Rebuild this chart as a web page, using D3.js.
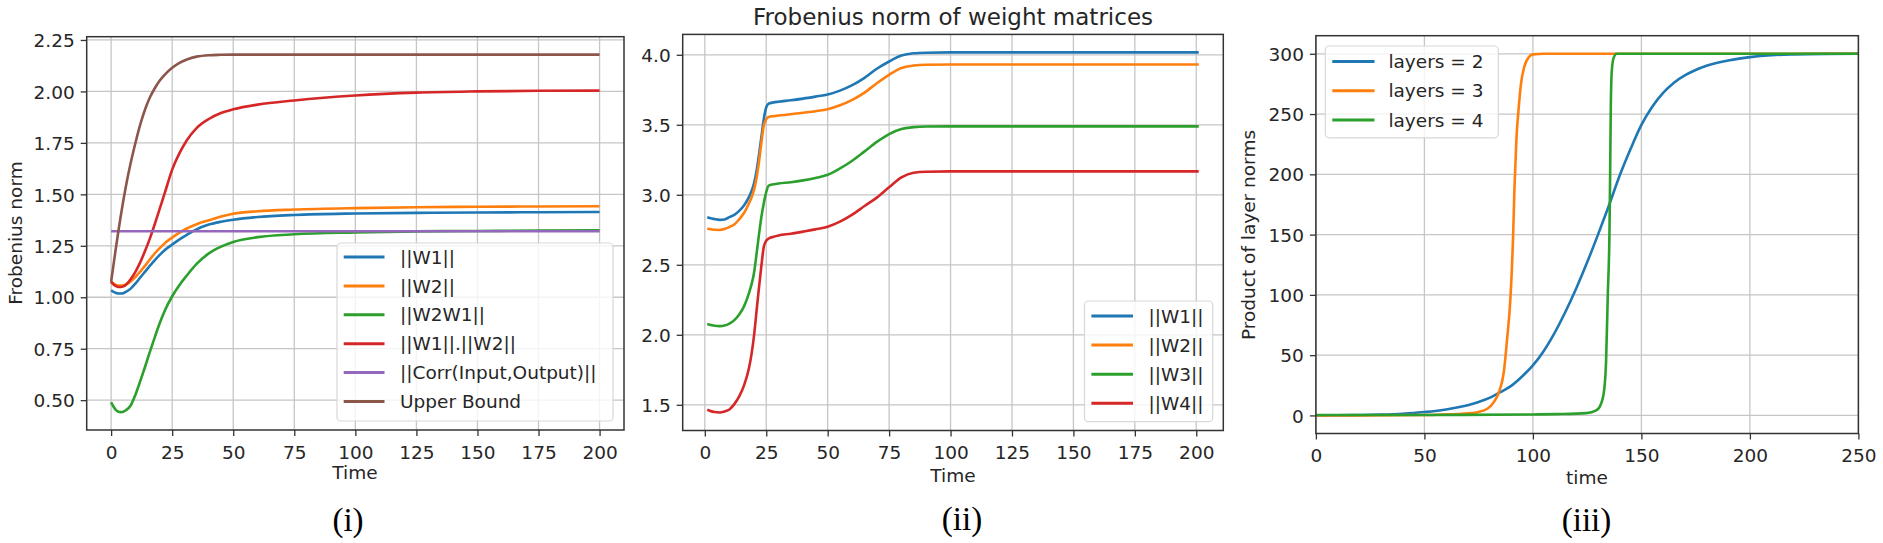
<!DOCTYPE html>
<html>
<head>
<meta charset="utf-8">
<script src="https://cdn.jsdelivr.net/npm/d3@7"></script>
<style>
  body { margin: 0; background: #fff; }
  svg text { font-family: "DejaVu Sans", sans-serif; fill: #262626; }
  .tick text { font-size: 18.5px; fill: #262626; }
  .axis-title { font-size: 18.5px; }
  .legend text { font-size: 18.5px; }
  .caption { font-family: "Liberation Serif", "Times New Roman", serif; font-size: 33px; fill: #000; }
</style>
</head>
<body>
<svg id="chart" width="1883" height="543"></svg>
<script>
// ---------- panel (i) ----------
const timeA = [0, 1, 2, 3, 4, 5, 6, 8, 10, 12, 14, 16, 18, 20, 22, 25, 28, 31, 35, 40, 45, 50, 60, 75, 100, 125, 150, 175, 200];
const w1A    = [1.034, 1.026, 1.021, 1.018, 1.018, 1.020, 1.026, 1.042, 1.067, 1.097, 1.126, 1.155, 1.182, 1.207, 1.230, 1.256, 1.281, 1.303, 1.330, 1.353, 1.367, 1.377, 1.390, 1.400, 1.407, 1.410, 1.412, 1.413, 1.414];
const w2A    = [1.075, 1.066, 1.060, 1.057, 1.057, 1.058, 1.062, 1.077, 1.099, 1.126, 1.155, 1.186, 1.215, 1.240, 1.263, 1.290, 1.314, 1.334, 1.355, 1.374, 1.392, 1.406, 1.418, 1.426, 1.433, 1.437, 1.440, 1.441, 1.442];
const w2w1A  = [0.490, 0.468, 0.452, 0.444, 0.442, 0.444, 0.451, 0.474, 0.528, 0.595, 0.666, 0.740, 0.810, 0.877, 0.936, 1.005, 1.060, 1.106, 1.162, 1.213, 1.246, 1.269, 1.292, 1.306, 1.315, 1.320, 1.322, 1.324, 1.325];
const prodA  = [1.075, 1.062, 1.054, 1.050, 1.050, 1.053, 1.060, 1.088, 1.125, 1.172, 1.228, 1.290, 1.360, 1.434, 1.508, 1.620, 1.700, 1.763, 1.822, 1.866, 1.895, 1.913, 1.936, 1.956, 1.980, 1.994, 2.000, 2.003, 2.004];
const boundA = [1.075, 1.160, 1.243, 1.323, 1.399, 1.470, 1.536, 1.652, 1.752, 1.842, 1.916, 1.974, 2.018, 2.054, 2.082, 2.115, 2.139, 2.155, 2.169, 2.176, 2.178, 2.179, 2.179, 2.179, 2.179, 2.179, 2.179, 2.179, 2.179];
const corrTimeA = [0, 200];
const corrA     = [1.321, 1.321];
const namesA = ["||W1||", "||W2||", "||W2W1||", "||W1||.||W2||", "||Corr(Input,Output)||", "Upper Bound"];
const xTicksA = [0, 25, 50, 75, 100, 125, 150, 175, 200];
const yTicksA = [0.50, 0.75, 1.00, 1.25, 1.50, 1.75, 2.00, 2.25];

// ---------- panel (ii) ----------
const timeB = [1, 2, 4, 6, 8, 10, 12, 14, 16, 18, 19, 20, 21, 22, 23, 24, 25, 26, 28, 30, 35, 40, 45, 50, 55, 60, 65, 70, 75, 80, 85, 90, 100, 125, 150, 175, 201];
const w1B = [2.840, 2.834, 2.826, 2.821, 2.824, 2.840, 2.857, 2.885, 2.925, 2.985, 3.025, 3.080, 3.165, 3.280, 3.410, 3.540, 3.625, 3.651, 3.660, 3.665, 3.675, 3.687, 3.701, 3.716, 3.744, 3.783, 3.835, 3.900, 3.952, 3.995, 4.011, 4.015, 4.017, 4.017, 4.017, 4.017, 4.017];
const w2B = [2.760, 2.755, 2.750, 2.749, 2.755, 2.770, 2.788, 2.825, 2.872, 2.940, 2.980, 3.035, 3.115, 3.230, 3.370, 3.495, 3.540, 3.556, 3.562, 3.566, 3.575, 3.586, 3.597, 3.611, 3.639, 3.678, 3.730, 3.797, 3.857, 3.905, 3.923, 3.929, 3.931, 3.931, 3.931, 3.931, 3.931];
const w3B = [2.077, 2.072, 2.065, 2.062, 2.066, 2.080, 2.105, 2.145, 2.205, 2.300, 2.360, 2.440, 2.570, 2.710, 2.840, 2.940, 3.020, 3.066, 3.075, 3.081, 3.090, 3.103, 3.120, 3.143, 3.188, 3.243, 3.310, 3.378, 3.434, 3.470, 3.483, 3.488, 3.489, 3.489, 3.489, 3.489, 3.489];
const w4B = [1.465, 1.458, 1.448, 1.445, 1.452, 1.467, 1.505, 1.560, 1.640, 1.765, 1.860, 1.990, 2.160, 2.330, 2.490, 2.628, 2.672, 2.688, 2.700, 2.709, 2.722, 2.737, 2.753, 2.772, 2.808, 2.858, 2.920, 2.980, 3.053, 3.124, 3.158, 3.165, 3.167, 3.167, 3.167, 3.167, 3.167];
const namesB = ["||W1||", "||W2||", "||W3||", "||W4||"];
const xTicksB = [0, 25, 50, 75, 100, 125, 150, 175, 200];
const yTicksB = [1.5, 2.0, 2.5, 3.0, 3.5, 4.0];

// ---------- panel (iii) ----------
const time2C   = [0, 10, 20, 30, 40, 45, 50, 55, 60, 65, 70, 75, 80, 85, 90, 95, 100, 105, 110, 115, 120, 125, 130, 135, 140, 145, 150, 155, 160, 165, 170, 175, 180, 185, 190, 195, 200, 210, 220, 235, 250];
const layers2C = [0.05, 0.15, 0.35, 0.7, 1.4, 2.0, 2.8, 3.7, 4.9, 6.5, 8.5, 11.2, 14.5, 19.3, 24.5, 32.3, 41.5, 53.5, 68.5, 86, 105.5, 127, 150, 174, 199, 221, 241, 256, 267.5, 276, 282, 286.5, 290, 292.6, 294.5, 296, 297.2, 298.8, 299.5, 299.9, 300];
const time3C   = [0, 50, 58, 67, 74.5, 79, 82, 84.3, 86.6, 88.1, 89.7, 90.9, 91.5, 92.4, 93.5, 94.5, 96, 98, 100, 105, 250];
const layers3C = [0, 0.3, 0.8, 1.4, 2.7, 5.5, 11, 19, 36, 63, 99, 150, 188, 229, 256, 275, 289, 297, 299.5, 300, 300];
const time4C   = [0, 50, 100, 111, 124.6, 129.2, 131.4, 132.9, 133.7, 134.5, 135.3, 135.6, 135.9, 136.3, 137.1, 138.6, 250];
const layers4C = [0.3, 0.4, 0.8, 1.1, 1.9, 4.1, 9.6, 22, 44, 99, 154, 201, 256, 284, 296, 300, 300];
const namesC = ["layers = 2", "layers = 3", "layers = 4"];
const xTicksC = [0, 50, 100, 150, 200, 250];
const yTicksC = [0, 50, 100, 150, 200, 250, 300];

const colors = ["#1f77b4", "#ff7f0e", "#2ca02c", "#d62728", "#9467bd", "#8c564b"];

function pairs(times, values) {
  return times.map((t, i) => ({x: t, y: values[i]}));
}

function padded(lo, hi) {
  const p = (hi - lo) * 0.05;
  return [lo - p, hi + p];
}

class LinePanel {
  constructor(svg, box, lines, opts) {
    const vis = this;
    vis.svg = svg;
    vis.box = box;
    vis.lines = lines;
    vis.opts = opts;

    let xs = lines.flatMap(l => l.values.map(d => d.x));
    let ys = lines.flatMap(l => l.values.map(d => d.y));
    let xDom = opts.xDomain || padded(d3.min(xs), d3.max(xs));
    let yDom = opts.yDomain || padded(d3.min(ys), d3.max(ys));

    vis.xScale = d3.scaleLinear().domain(xDom).range([box.left, box.right]);
    vis.yScale = d3.scaleLinear().domain(yDom).range([box.bottom, box.top]);
    vis.line = d3.line()
        .x(d => vis.xScale(d.x))
        .y(d => vis.yScale(d.y))
        .curve(d3.curveMonotoneX);

    vis.g = svg.append("g");
    vis.initPlot();
    vis.updateCurves();
    vis.updateLegend();
  }

  initPlot() {
    const vis = this;
    const b = vis.box;

    // grid
    let grid = vis.g.append("g").attr("class", "grid");
    grid.selectAll(".gx").data(vis.opts.xTicks).enter().append("line")
      .attr("x1", d => vis.xScale(d)).attr("x2", d => vis.xScale(d))
      .attr("y1", b.top).attr("y2", b.bottom)
      .attr("stroke", "#c6c6c6").attr("stroke-width", 1.3);
    grid.selectAll(".gy").data(vis.opts.yTicks).enter().append("line")
      .attr("x1", b.left).attr("x2", b.right)
      .attr("y1", d => vis.yScale(d)).attr("y2", d => vis.yScale(d))
      .attr("stroke", "#c6c6c6").attr("stroke-width", 1.3);

    // axes
    let xAxis = d3.axisBottom(vis.xScale)
        .tickValues(vis.opts.xTicks)
        .tickFormat(d3.format("d"))
        .tickSize(6)
        .tickPadding(5);
    let yAxis = d3.axisLeft(vis.yScale)
        .tickValues(vis.opts.yTicks)
        .tickFormat(d3.format(vis.opts.yFormat))
        .tickSize(6)
        .tickPadding(6);

    vis.gXAxis = vis.g.append("g")
        .attr("class", "x axis")
        .attr("transform", "translate(0," + b.bottom + ")")
        .call(xAxis);
    vis.gYAxis = vis.g.append("g")
        .attr("class", "y axis")
        .attr("transform", "translate(" + b.left + ",0)")
        .call(yAxis);

    vis.gXAxis.selectAll(".domain").remove();
    vis.gYAxis.selectAll(".domain").remove();
    vis.g.selectAll(".tick line").attr("stroke", "#333").attr("stroke-width", 1.3);
    vis.g.selectAll(".tick text").attr("font-family", null).attr("font-size", null);
    vis.gXAxis.selectAll(".tick text").attr("dy", "0.95em");
    vis.gYAxis.selectAll(".tick text").attr("dy", "0.36em");

    vis.gCurves = vis.g.append("g").attr("class", "curves");
  }

  updateCurves() {
    const vis = this;
    const b = vis.box;

    vis.gCurves.selectAll("path")
      .data(vis.lines)
      .enter().append("path")
      .attr("fill", "none")
      .attr("stroke", (d, i) => colors[i])
      .attr("stroke-width", 2.6)
      .attr("stroke-linejoin", "round")
      .attr("d", d => vis.line(d.values));

    // frame drawn over the curves
    vis.g.append("rect")
      .attr("x", b.left).attr("y", b.top)
      .attr("width", b.right - b.left).attr("height", b.bottom - b.top)
      .attr("fill", "none")
      .attr("stroke", "#333")
      .attr("stroke-width", 1.5);
  }

  updateLegend() {
    const vis = this;
    const L = vis.opts.legend;

    let lg = vis.g.append("g").attr("class", "legend");
    lg.append("rect")
      .attr("x", L.x0).attr("y", L.y0)
      .attr("width", L.x1 - L.x0).attr("height", L.y1 - L.y0)
      .attr("rx", 4)
      .attr("fill", "#fff").attr("fill-opacity", 0.8)
      .attr("stroke", "#d8d8d8").attr("stroke-width", 1.2);

    let items = lg.selectAll(".legend-item")
      .data(vis.lines)
      .enter().append("g")
      .attr("class", "legend-item")
      .attr("transform", (d, i) => "translate(0," + (L.row0 + i * L.step) + ")");

    items.append("line")
      .attr("x1", L.lineX0).attr("x2", L.lineX1)
      .attr("stroke", (d, i) => colors[i])
      .attr("stroke-width", 3);

    items.append("text")
      .attr("x", L.textX)
      .attr("dy", "0.36em")
      .text(d => d.name);
  }
}

const svg = d3.select("#chart");

// panel (i)
let linesA = [w1A, w2A, w2w1A, prodA].map((v, i) => ({name: namesA[i], values: pairs(timeA, v)}));
linesA.push({name: namesA[4], values: pairs(corrTimeA, corrA)});
linesA.push({name: namesA[5], values: pairs(timeA, boundA)});

new LinePanel(svg, {left: 86.7, right: 624, top: 36.7, bottom: 430}, linesA, {
  xTicks: xTicksA, yTicks: yTicksA, yFormat: ".2f",
  legend: {x0: 337, x1: 613, y0: 243, y1: 421, row0: 257, step: 28.9, lineX0: 343.7, lineX1: 384.5, textX: 400}
});

// panel (ii)
let linesB = [w1B, w2B, w3B, w4B].map((v, i) => ({name: namesB[i], values: pairs(timeB, v)}));
new LinePanel(svg, {left: 682.7, right: 1223.3, top: 34.4, bottom: 430.5}, linesB, {
  xTicks: xTicksB, yTicks: yTicksB, yFormat: ".1f",
  legend: {x0: 1084.5, x1: 1212.7, y0: 301, y1: 421.7, row0: 316, step: 29.1, lineX0: 1091.4, lineX1: 1133, textX: 1148.6}
});

// panel (iii)
let linesC = [
  {name: namesC[0], values: pairs(time2C, layers2C)},
  {name: namesC[1], values: pairs(time3C, layers3C)},
  {name: namesC[2], values: pairs(time4C, layers4C)}
];
new LinePanel(svg, {left: 1315.9, right: 1858.4, top: 35.7, bottom: 433.5}, linesC, {
  xTicks: xTicksC, yTicks: yTicksC, yFormat: "d", xDomain: [0, 250],
  legend: {x0: 1325.3, x1: 1498.3, y0: 46, y1: 137.8, row0: 61.6, step: 29.2, lineX0: 1332.3, lineX1: 1374.5, textX: 1388.4}
});

// titles and labels
svg.append("text").attr("class", "axis-title")
  .attr("transform", "translate(22,233) rotate(-90)")
  .attr("text-anchor", "middle").text("Frobenius norm");
svg.append("text").attr("class", "axis-title")
  .attr("transform", "translate(1255,235) rotate(-90)")
  .attr("text-anchor", "middle").text("Product of layer norms");

svg.append("text").attr("class", "axis-title")
  .attr("x", 355).attr("y", 479.3).attr("text-anchor", "middle").text("Time");
svg.append("text").attr("class", "axis-title")
  .attr("x", 953).attr("y", 481.5).attr("text-anchor", "middle").text("Time");
svg.append("text").attr("class", "axis-title")
  .attr("x", 1587).attr("y", 484).attr("text-anchor", "middle").text("time");

svg.append("text")
  .attr("x", 953).attr("y", 25).attr("text-anchor", "middle")
  .style("font-size", "23px")
  .text("Frobenius norm of weight matrices");

svg.append("text").attr("class", "caption")
  .attr("x", 348).attr("y", 531).attr("text-anchor", "middle").text("(i)");
svg.append("text").attr("class", "caption")
  .attr("x", 962).attr("y", 530).attr("text-anchor", "middle").text("(ii)");
svg.append("text").attr("class", "caption")
  .attr("x", 1586.5).attr("y", 531).attr("text-anchor", "middle").text("(iii)");
</script>
</body>
</html>
